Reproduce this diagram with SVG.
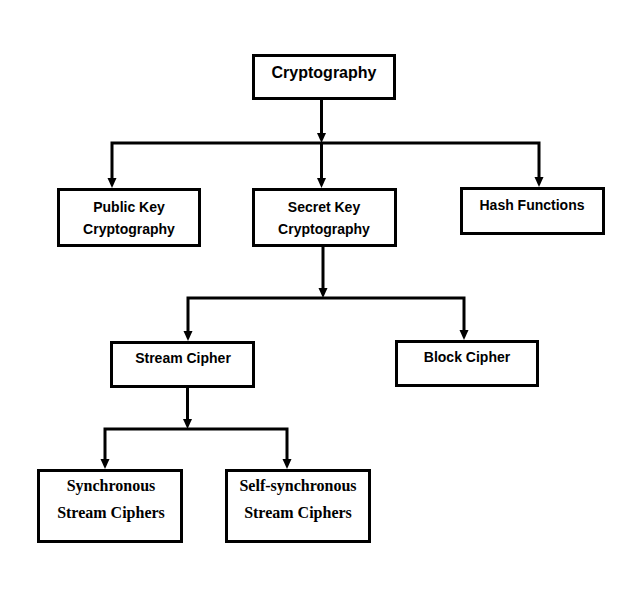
<svg xmlns="http://www.w3.org/2000/svg" width="641" height="593" viewBox="0 0 641 593">
<style>
.box{fill:#fff;stroke:#000;stroke-width:3}
.sans{font-family:"Liberation Sans",Arial,sans-serif;font-weight:bold;font-size:14px;fill:#000;text-anchor:middle}
.big{font-size:16px}
.serif{font-family:"Liberation Serif","Times New Roman",serif;font-weight:bold;font-size:16px;fill:#000;text-anchor:middle}
.ln{fill:none;stroke:#000;stroke-width:3}
.head{fill:#000}
</style>
<rect width="641" height="593" fill="#fff"/>
<g id="connectors">
<line class="ln" x1="321.5" y1="100" x2="321.5" y2="134"/>
<path class="head" d="M317,133 L326,133 L321.5,143 Z"/>
<polyline class="ln" points="112,179 112,143 539,143 539,178"/>
<line class="ln" x1="321.5" y1="143" x2="321.5" y2="179"/>
<path class="head" d="M107.5,178 L116.5,178 L112,188 Z"/>
<path class="head" d="M317,178 L326,178 L321.5,188 Z"/>
<path class="head" d="M534.5,177 L543.5,177 L539,187 Z"/>
<line class="ln" x1="323" y1="247" x2="323" y2="289"/>
<path class="head" d="M318.5,288 L327.5,288 L323,298 Z"/>
<polyline class="ln" points="188,332 188,298 464,298 464,331"/>
<path class="head" d="M183.5,331 L192.5,331 L188,341 Z"/>
<path class="head" d="M459.5,330 L468.5,330 L464,340 Z"/>
<line class="ln" x1="187.5" y1="388" x2="187.5" y2="420"/>
<path class="head" d="M183,419 L192,419 L187.5,429 Z"/>
<polyline class="ln" points="105,460 105,429 287,429 287,460"/>
<path class="head" d="M100.5,459 L109.5,459 L105,469 Z"/>
<path class="head" d="M282.5,459 L291.5,459 L287,469 Z"/>
</g>
<g id="cryptography">
<rect class="box" x="253.5" y="55.5" width="141" height="43"/>
<text class="sans big" x="324" y="78">Cryptography</text>
</g>
<g id="public-key">
<rect class="box" x="58.5" y="189.5" width="141" height="56"/>
<text class="sans" x="129" y="212">Public Key</text>
<text class="sans" x="129" y="234">Cryptography</text>
</g>
<g id="secret-key">
<rect class="box" x="253.5" y="189.5" width="142" height="56"/>
<text class="sans" x="324" y="212">Secret Key</text>
<text class="sans" x="324" y="234">Cryptography</text>
</g>
<g id="hash-functions">
<rect class="box" x="461.5" y="188.5" width="142" height="45"/>
<text class="sans" x="532" y="210">Hash Functions</text>
</g>
<g id="stream-cipher">
<rect class="box" x="111.5" y="342.5" width="142" height="44"/>
<text class="sans" x="183" y="363">Stream Cipher</text>
</g>
<g id="block-cipher">
<rect class="box" x="396.5" y="341.5" width="141" height="44"/>
<text class="sans" x="467" y="362">Block Cipher</text>
</g>
<g id="synchronous">
<rect class="box" x="38.5" y="470.5" width="143" height="71"/>
<text class="serif" x="111" y="491">Synchronous</text>
<text class="serif" x="111" y="518">Stream Ciphers</text>
</g>
<g id="self-synchronous">
<rect class="box" x="226.5" y="470.5" width="143" height="71"/>
<text class="serif" x="298" y="491">Self-synchronous</text>
<text class="serif" x="298" y="518">Stream Ciphers</text>
</g>
</svg>
